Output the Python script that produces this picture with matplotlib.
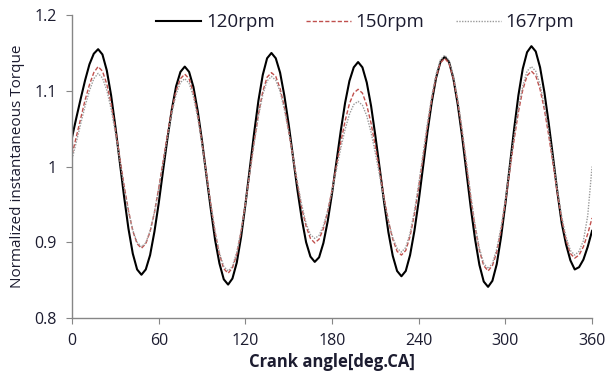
import matplotlib
matplotlib.use("Agg")
import matplotlib.pyplot as plt
import numpy as np

# Crank angle grid, every 3 degrees
angle = np.arange(0, 361, 3)

# 120 rpm
torque_120 = [
    1.039, 1.065, 1.090, 1.114, 1.135, 1.149, 1.155,
    1.148, 1.127, 1.094, 1.052, 1.006, 0.960, 0.918, 0.885, 0.864, 0.857,
    0.864, 0.883, 0.914, 0.952, 0.995, 1.037, 1.075, 1.106, 1.125, 1.132,
    1.125, 1.105, 1.073, 1.033, 0.988, 0.944, 0.903, 0.872, 0.851, 0.844,
    0.852, 0.873, 0.907, 0.950, 0.997, 1.044, 1.087, 1.121, 1.143, 1.150,
    1.143, 1.124, 1.093, 1.055, 1.012, 0.969, 0.931, 0.900, 0.881, 0.874,
    0.880, 0.899, 0.928, 0.965, 1.006, 1.047, 1.084, 1.113, 1.131, 1.138,
    1.131, 1.111, 1.080, 1.040, 0.997, 0.953, 0.913, 0.882, 0.862, 0.855,
    0.862, 0.883, 0.915, 0.955, 1.000, 1.045, 1.085, 1.117, 1.138, 1.145,
    1.138, 1.116, 1.082, 1.040, 0.993, 0.946, 0.904, 0.870, 0.848, 0.841,
    0.849, 0.871, 0.907, 0.951, 1.000, 1.049, 1.094, 1.129, 1.151, 1.159,
    1.152, 1.131, 1.098, 1.057, 1.012, 0.966, 0.925, 0.897, 0.876, 0.864,
    0.867, 0.877, 0.894, 0.915,
]

# 150 rpm
torque_150 = [
    1.016, 1.040, 1.064, 1.088, 1.108, 1.124, 1.132,
    1.126, 1.109, 1.083, 1.049, 1.012, 0.975, 0.942, 0.915, 0.898, 0.892,
    0.898, 0.914, 0.939, 0.972, 1.007, 1.043, 1.075, 1.100, 1.116, 1.122,
    1.116, 1.097, 1.068, 1.031, 0.991, 0.950, 0.913, 0.884, 0.865, 0.859,
    0.866, 0.884, 0.914, 0.951, 0.992, 1.032, 1.069, 1.099, 1.118, 1.124,
    1.119, 1.103, 1.078, 1.046, 1.012, 0.977, 0.945, 0.921, 0.905, 0.899,
    0.904, 0.918, 0.941, 0.969, 1.001, 1.032, 1.060, 1.083, 1.097, 1.102,
    1.097, 1.081, 1.057, 1.026, 0.993, 0.959, 0.928, 0.904, 0.888, 0.883,
    0.889, 0.908, 0.937, 0.973, 1.013, 1.053, 1.089, 1.118, 1.137, 1.143,
    1.136, 1.116, 1.085, 1.046, 1.003, 0.959, 0.920, 0.889, 0.869, 0.862,
    0.869, 0.887, 0.916, 0.953, 0.994, 1.035, 1.072, 1.101, 1.120, 1.126,
    1.120, 1.102, 1.075, 1.041, 1.003, 0.964, 0.930, 0.903, 0.885, 0.879,
    0.883, 0.894, 0.911, 0.932,
]

# 167 rpm
torque_167 = [
    1.010, 1.033, 1.057, 1.080, 1.100, 1.116, 1.123,
    1.117, 1.101, 1.076, 1.044, 1.009, 0.973, 0.941, 0.916, 0.900, 0.894,
    0.899, 0.915, 0.940, 0.971, 1.005, 1.039, 1.070, 1.095, 1.111, 1.116,
    1.110, 1.092, 1.064, 1.028, 0.989, 0.950, 0.914, 0.886, 0.868, 0.862,
    0.868, 0.887, 0.915, 0.951, 0.991, 1.030, 1.066, 1.095, 1.113, 1.119,
    1.114, 1.099, 1.075, 1.045, 1.012, 0.979, 0.949, 0.925, 0.910, 0.905,
    0.909, 0.922, 0.942, 0.968, 0.996, 1.024, 1.049, 1.069, 1.082, 1.086,
    1.081, 1.067, 1.045, 1.017, 0.987, 0.956, 0.928, 0.906, 0.892, 0.887,
    0.893, 0.912, 0.941, 0.977, 1.017, 1.057, 1.093, 1.122, 1.141, 1.147,
    1.140, 1.120, 1.089, 1.050, 1.006, 0.962, 0.923, 0.892, 0.872, 0.865,
    0.872, 0.891, 0.920, 0.957, 0.999, 1.040, 1.077, 1.106, 1.126, 1.132,
    1.126, 1.108, 1.081, 1.046, 1.008, 0.969, 0.934, 0.907, 0.889, 0.883,
    0.888, 0.902, 0.935, 1.000,
]

labels = ["120rpm", "150rpm", "167rpm"]
x_ticks = [0, 60, 120, 180, 240, 300, 360]
y_ticks = [0.8, 0.9, 1.0, 1.1, 1.2]
y_ticklabels = ["0.8", "0.9", "1", "1.1", "1.2"]

plt.rcParams["font.family"] = ["Open Sans", "DejaVu Sans"]
txt = "#1c1c30"

fig = plt.figure(figsize=(6.06, 3.78), dpi=100)
ax = fig.add_axes([0.119, 0.159, 0.858, 0.801])

ax.plot(angle, torque_120, color="black", lw=1.5, ls="-", label=labels[0])
ax.plot(angle, torque_150, color="#c0504d", lw=1.0, ls=(0, (3, 1.5)), label=labels[1])
ax.plot(angle, torque_167, color="#9a9a9a", lw=1.0, ls=(0, (1, 1)), label=labels[2])

ax.set_xlim(0, 360)
ax.set_ylim(0.8, 1.2)
ax.set_xticks(x_ticks)
ax.set_yticks(y_ticks)
ax.set_yticklabels(y_ticklabels)

for side in ["top", "right"]:
    ax.spines[side].set_visible(False)
for side in ["left", "bottom"]:
    ax.spines[side].set_color("#868686")
    ax.spines[side].set_linewidth(1.0)
ax.tick_params(direction="out", length=4, color="#868686", labelsize=11.5,
               labelcolor=txt, pad=7)

ax.set_xlabel("Crank angle[deg.CA]", fontsize=12, fontweight="bold", color=txt, labelpad=3)
ax.set_ylabel("Normalized instantaneous Torque", fontsize=11, color=txt, labelpad=7)

ax.legend(loc="center", bbox_to_anchor=(0.5635, 0.977), ncol=3, frameon=False,
          handlelength=2.4, handletextpad=0.27, columnspacing=1.65, fontsize=13.5,
          labelcolor=txt)

fig.savefig("out.png", dpi=100)
